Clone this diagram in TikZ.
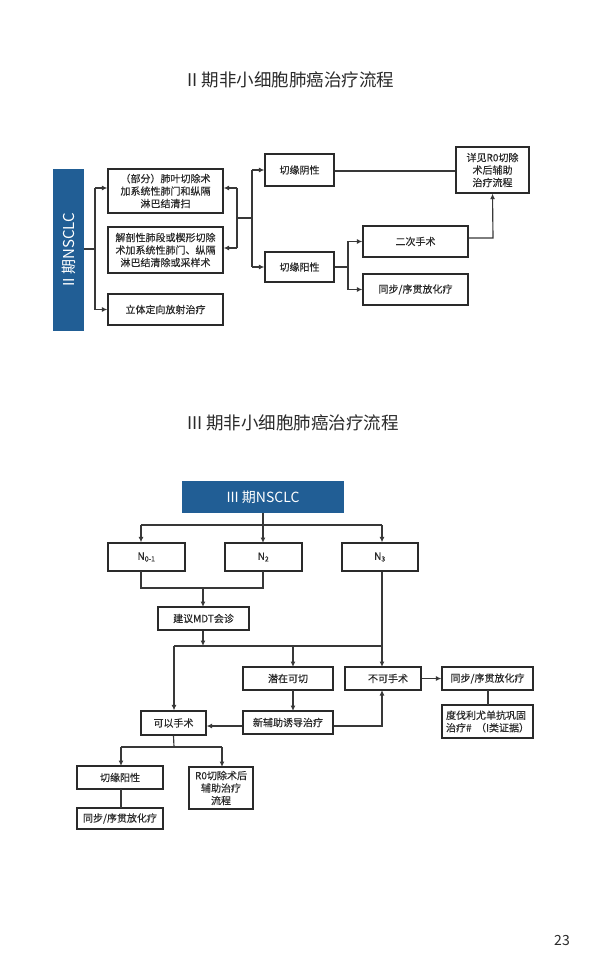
\documentclass[tikz,border=0pt]{standalone}
\usepackage{fontspec}
\setmainfont{Noto Sans CJK SC}
\newfontfamily\boxfont[FakeBold=0.3]{Noto Sans CJK SC}
\usetikzlibrary{arrows.meta}
\definecolor{nblue}{HTML}{215E95}
\definecolor{ink}{HTML}{2A2A2A}
\definecolor{ln}{HTML}{383838}
\begin{document}
\begin{tikzpicture}[x=1pt,y=-1pt,
  box/.style={draw=ink,line width=1.2pt,fill=white,inner sep=1pt,align=center,text=ink,font=\boxfont\fontsize{10}{12.5}\selectfont},
  bluebox/.style={fill=nblue,draw=none,text=white,inner sep=0pt,align=center},
  conn/.style={draw=ln,line width=1.15pt},
  arr/.style={conn,-{Latex[length=5.5pt,width=5pt]}},
  title/.style={text=ink,font=\fontsize{17.5}{20}\selectfont}]
\useasboundingbox (0,0) rectangle (591,973);
\fill[white] (0,0) rectangle (591,973);

% ---------- Titles ----------
\node[title] (t1) at (291,80) {II 期非小细胞肺癌治疗流程};
\node[title] (t2) at (293,423) {III 期非小细胞肺癌治疗流程};
\node[text=ink,font=\fontsize{14}{16}\selectfont] (pg) at (562,940) {23};

% ---------- Stage II ----------
\node[bluebox,minimum width=31pt,minimum height=162pt] (s2) at (68.5,250) {};
\node[text=white,rotate=90,font=\fontsize{15}{17}\selectfont] (s2t) at (68.5,250) {II 期NSCLC};

\node[box,minimum width=115pt,minimum height=44pt] (b1) at (165.5,191) {（部分）肺叶切除术\\加系统性肺门和纵隔\\淋巴结清扫};
\node[box,minimum width=115pt,minimum height=46pt] (b2) at (165.5,250) {解剖性肺段或楔形切除\\术加系统性肺门、纵隔\\淋巴结清除或采样术};
\node[box,minimum width=115pt,minimum height=31pt] (b3) at (165.5,309.5) {立体定向放射治疗};

\node[box,minimum width=69pt,minimum height=32pt] (neg) at (299.5,170) {切缘阴性};
\node[box,minimum width=69pt,minimum height=30pt] (pos) at (299.5,267) {切缘阳性};
\node[box,minimum width=73pt,minimum height=46pt] (r0) at (492.5,170) {详见R0切除\\术后辅助\\治疗流程};
\node[box,minimum width=105pt,minimum height=31pt] (sec) at (415.5,241.5) {二次手术};
\node[box,minimum width=105pt,minimum height=31pt] (cr2) at (415.5,289.5) {同步/序贯放化疗};

\coordinate (j1) at (95,249);
\draw[conn] (s2.east |- j1) -- (j1);
\draw[conn] (95,188) -- (95,309.5);
\draw[arr] (95,188) -- (b1.west |- 0,188);
\draw[arr] (95,309.5) -- (b3.west);

\coordinate (j2) at (237,218);
\draw[conn] (237,188) -- (237,248);
\draw[arr] (237,188) -- (b1.east |- 0,188);
\draw[arr] (237,248) -- (b2.east |- 0,248);
\draw[conn] (j2) -- (252,218);
\draw[conn] (252,170) -- (252,267);
\draw[arr] (252,170) -- (neg.west);
\draw[arr] (252,267) -- (pos.west);

\draw[conn] (neg.east |- 0,171) -- (r0.west |- 0,171);
\draw[conn] (pos.east) -- (348,267);
\draw[conn] (348,241.5) -- (348,289.5);
\draw[arr] (348,241.5) -- (sec.west);
\draw[arr] (348,289.5) -- (cr2.west);
\draw[arr] (sec.east |- 0,238) -- (493,238) -- (r0.south);

% ---------- Stage III ----------
\node[bluebox,minimum width=162pt,minimum height=32pt,font=\fontsize{14}{16}\selectfont] (s3) at (263,497) {III 期NSCLC};

\node[box,minimum width=77pt,minimum height=28pt] (n01) at (146.5,557) {N\textsubscript{0-1}};
\node[box,minimum width=77pt,minimum height=28pt] (n2) at (263.5,557) {N\textsubscript{2}};
\node[box,minimum width=76pt,minimum height=28pt] (n3) at (380,557) {N\textsubscript{3}};

\coordinate (h1) at (141,525);
\coordinate (h2) at (382,525);
\draw[conn] (263,513) -- (263,525);
\draw[conn] (h1) -- (h2);
\draw[arr] (h1) -- (h1 |- n01.north);
\draw[arr] (263,525) -- (263,543);
\draw[arr] (h2) -- (h2 |- n3.north);

\node[box,minimum width=91pt,minimum height=23pt] (mdt) at (203.5,618.5) {建议MDT会诊};
\draw[conn] (141,571) -- (141,588) -- (263,588) -- (263,571);
\draw[arr] (203,588) -- (203,607);

\node[box,minimum width=65pt,minimum height=24pt] (keyi) at (173.5,723) {可以手术};
\node[box,minimum width=90pt,minimum height=23pt] (qz) at (288,678.5) {潜在可切};
\node[box,minimum width=76pt,minimum height=23pt] (buke) at (383,678.5) {\hspace*{10pt}不可手术};
\node[box,minimum width=91pt,minimum height=23pt] (cr3) at (487.5,678.5) {同步/序贯放化疗};
\node[box,minimum width=91pt,minimum height=33pt,align=left] (durva) at (487.5,721.5) {度伐利尤单抗巩固\\治疗\#\ \ （I类证据）};
\node[box,minimum width=90pt,minimum height=23pt] (xfz) at (288,722.5) {新辅助诱导治疗};

\coordinate (m1) at (174,646);
\coordinate (m2) at (382,646);
\draw[arr] (mdt.south -| 203,0) -- (203,646);
\draw[conn] (m1) -- (m2);
\draw[arr] (m1) -- (keyi.north -| m1);
\draw[arr] (293,646) -- (293,667);
\draw[arr] (n3.south -| 382,0) -- (382,667);
\draw[arr] (buke.east) -- (cr3.west);
\draw[conn] (488,690) -- (488,705);
\draw[arr] (293,690) -- (293,711);
\draw[arr] (xfz.west |- 0,726) -- (keyi.east |- 0,726);
\draw[arr] (xfz.east |- 0,726) -- (382,726) -- (382,690);

\node[box,minimum width=86pt,minimum height=23pt] (qy) at (120,777.5) {切缘阳性};
\node[box,minimum width=64pt,minimum height=42pt] (r0b) at (221,788) {R0切除术后\\辅助治疗\\流程};
\node[box,minimum width=86pt,minimum height=21pt] (tb) at (120,818.5) {同步/序贯放化疗};

\draw[conn] (keyi.south) -- (174,747);
\draw[conn] (121,747) -- (222,747);
\draw[arr] (121,747) -- (121,766);
\draw[arr] (222,747) -- (222,767);
\draw[conn] (121,789) -- (121,808);
\end{tikzpicture}
\end{document}
